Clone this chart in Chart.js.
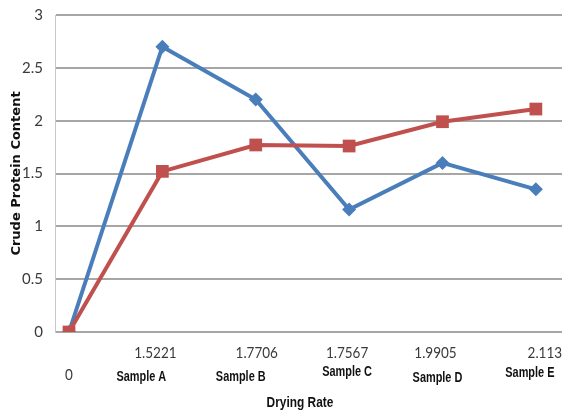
<!DOCTYPE html>
<html>
<head>
<meta charset="utf-8">
<script src="https://cdn.jsdelivr.net/npm/chart.js@4.4.0/dist/chart.umd.min.js"></script>
<style>
  html, body { margin: 0; padding: 0; background: #fff; overflow: hidden; }
  canvas { display: block; }
</style>
</head>
<body>
<canvas id="chart" width="562" height="410"></canvas>
<script>
// Data
const rateLabels = ['0', '1.5221', '1.7706', '1.7567', '1.9905', '2.113'];
const sampleLabels = ['', 'Sample A', 'Sample B', 'Sample C', 'Sample D', 'Sample E'];
const blueValues = [0, 2.7, 2.2, 1.16, 1.6, 1.35];
const redValues = [0, 1.52, 1.77, 1.76, 1.99, 2.11];

const NUMFONT = 'Lato, "Liberation Sans", sans-serif';
const BOLDFONT = '"Liberation Sans", Arial, sans-serif';

// small nudges so the labels sit like in the original (left-shifted sample names)
const rateShift = [0, -7, 1, -2, -7, 9];
const sampleShift = [0, -21, -15, -2, -5, -6];
const sampleLift = [0, 0, 0, -5, 1, -4];

function toPoints(values) {
  return values.map((v, i) => ({ x: i, y: v }));
}

// narrow bold text, squeezed horizontally like the original
function squeezedText(ctx, text, x, y, sx) {
  ctx.save();
  ctx.translate(x, y);
  ctx.scale(sx, 1);
  ctx.fillText(text, 0, 0);
  ctx.restore();
}

// Draw the two-row category labels under the plot
const xLabelPlugin = {
  id: 'xLabels',
  afterDraw(chart) {
    const ctx = chart.ctx;
    const xs = chart.scales.x;
    const bottom = chart.chartArea.bottom;
    ctx.save();
    ctx.textAlign = 'center';
    ctx.textBaseline = 'middle';
    rateLabels.forEach((lab, i) => {
      const px = xs.getPixelForValue(i);
      ctx.fillStyle = '#3a3a3a';
      ctx.font = '15px ' + NUMFONT;
      const y = i === 0 ? bottom + 43 : bottom + 21;
      squeezedText(ctx, lab, px + rateShift[i], y, 0.9);
      if (sampleLabels[i]) {
        ctx.fillStyle = '#111';
        ctx.font = 'bold 14px ' + BOLDFONT;
        squeezedText(ctx, sampleLabels[i], px + sampleShift[i], bottom + 45 + sampleLift[i], 0.78);
      }
    });
    // axis title
    ctx.fillStyle = '#111';
    ctx.font = 'bold 14px ' + BOLDFONT;
    squeezedText(ctx, 'Drying Rate', 300, bottom + 71, 0.85);
    ctx.restore();
  }
};

new Chart(document.getElementById('chart'), {
  type: 'line',
  data: {
    datasets: [
      {
        label: 'Series 2',
        data: toPoints(redValues),
        borderColor: '#c0504d',
        backgroundColor: '#c0504d',
        borderWidth: 4,
        pointStyle: 'rect',
        pointRadius: 9,
        pointBorderWidth: 0,
        tension: 0
      },
      {
        label: 'Series 1',
        data: toPoints(blueValues),
        borderColor: '#4a7ebb',
        backgroundColor: '#4a7ebb',
        borderWidth: 4,
        pointStyle: 'rectRot',
        pointRadius: 7,
        pointBorderWidth: 0,
        tension: 0
      }
    ]
  },
  options: {
    responsive: false,
    animation: false,
    layout: { autoPadding: false, padding: { top: 15, left: 0, right: 0, bottom: 0 } },
    plugins: {
      legend: { display: false },
      tooltip: { enabled: false }
    },
    scales: {
      x: {
        type: 'linear',
        min: -0.15,
        max: 5.28,
        grid: { display: false },
        border: { display: false },
        ticks: { display: false },
        afterFit(scale) {
          scale.height = 78;
          scale.paddingLeft = 0;
          scale.paddingRight = 0;
        }
      },
      y: {
        min: 0,
        max: 3,
        ticks: {
          stepSize: 0.5,
          color: '#3a3a3a',
          padding: 12,
          font: { family: NUMFONT, size: 15 },
          callback: (v) => String(v)
        },
        grid: {
          color: '#a6a6a6',
          lineWidth: 2,
          drawTicks: false
        },
        border: { display: true, color: '#c8c8c8', width: 1 },
        title: {
          display: true,
          text: 'Crude Protein Content',
          color: '#111',
          font: { family: 'DejaVu Sans', size: 13, weight: 'bold', lineHeight: 1.2 },
          padding: { top: 9, bottom: 0 }
        },
        afterFit(scale) {
          scale.width = 55;
          scale.paddingTop = 0;
          scale.paddingBottom = 0;
        }
      }
    }
  },
  plugins: [xLabelPlugin]
});
</script>
</body>
</html>
